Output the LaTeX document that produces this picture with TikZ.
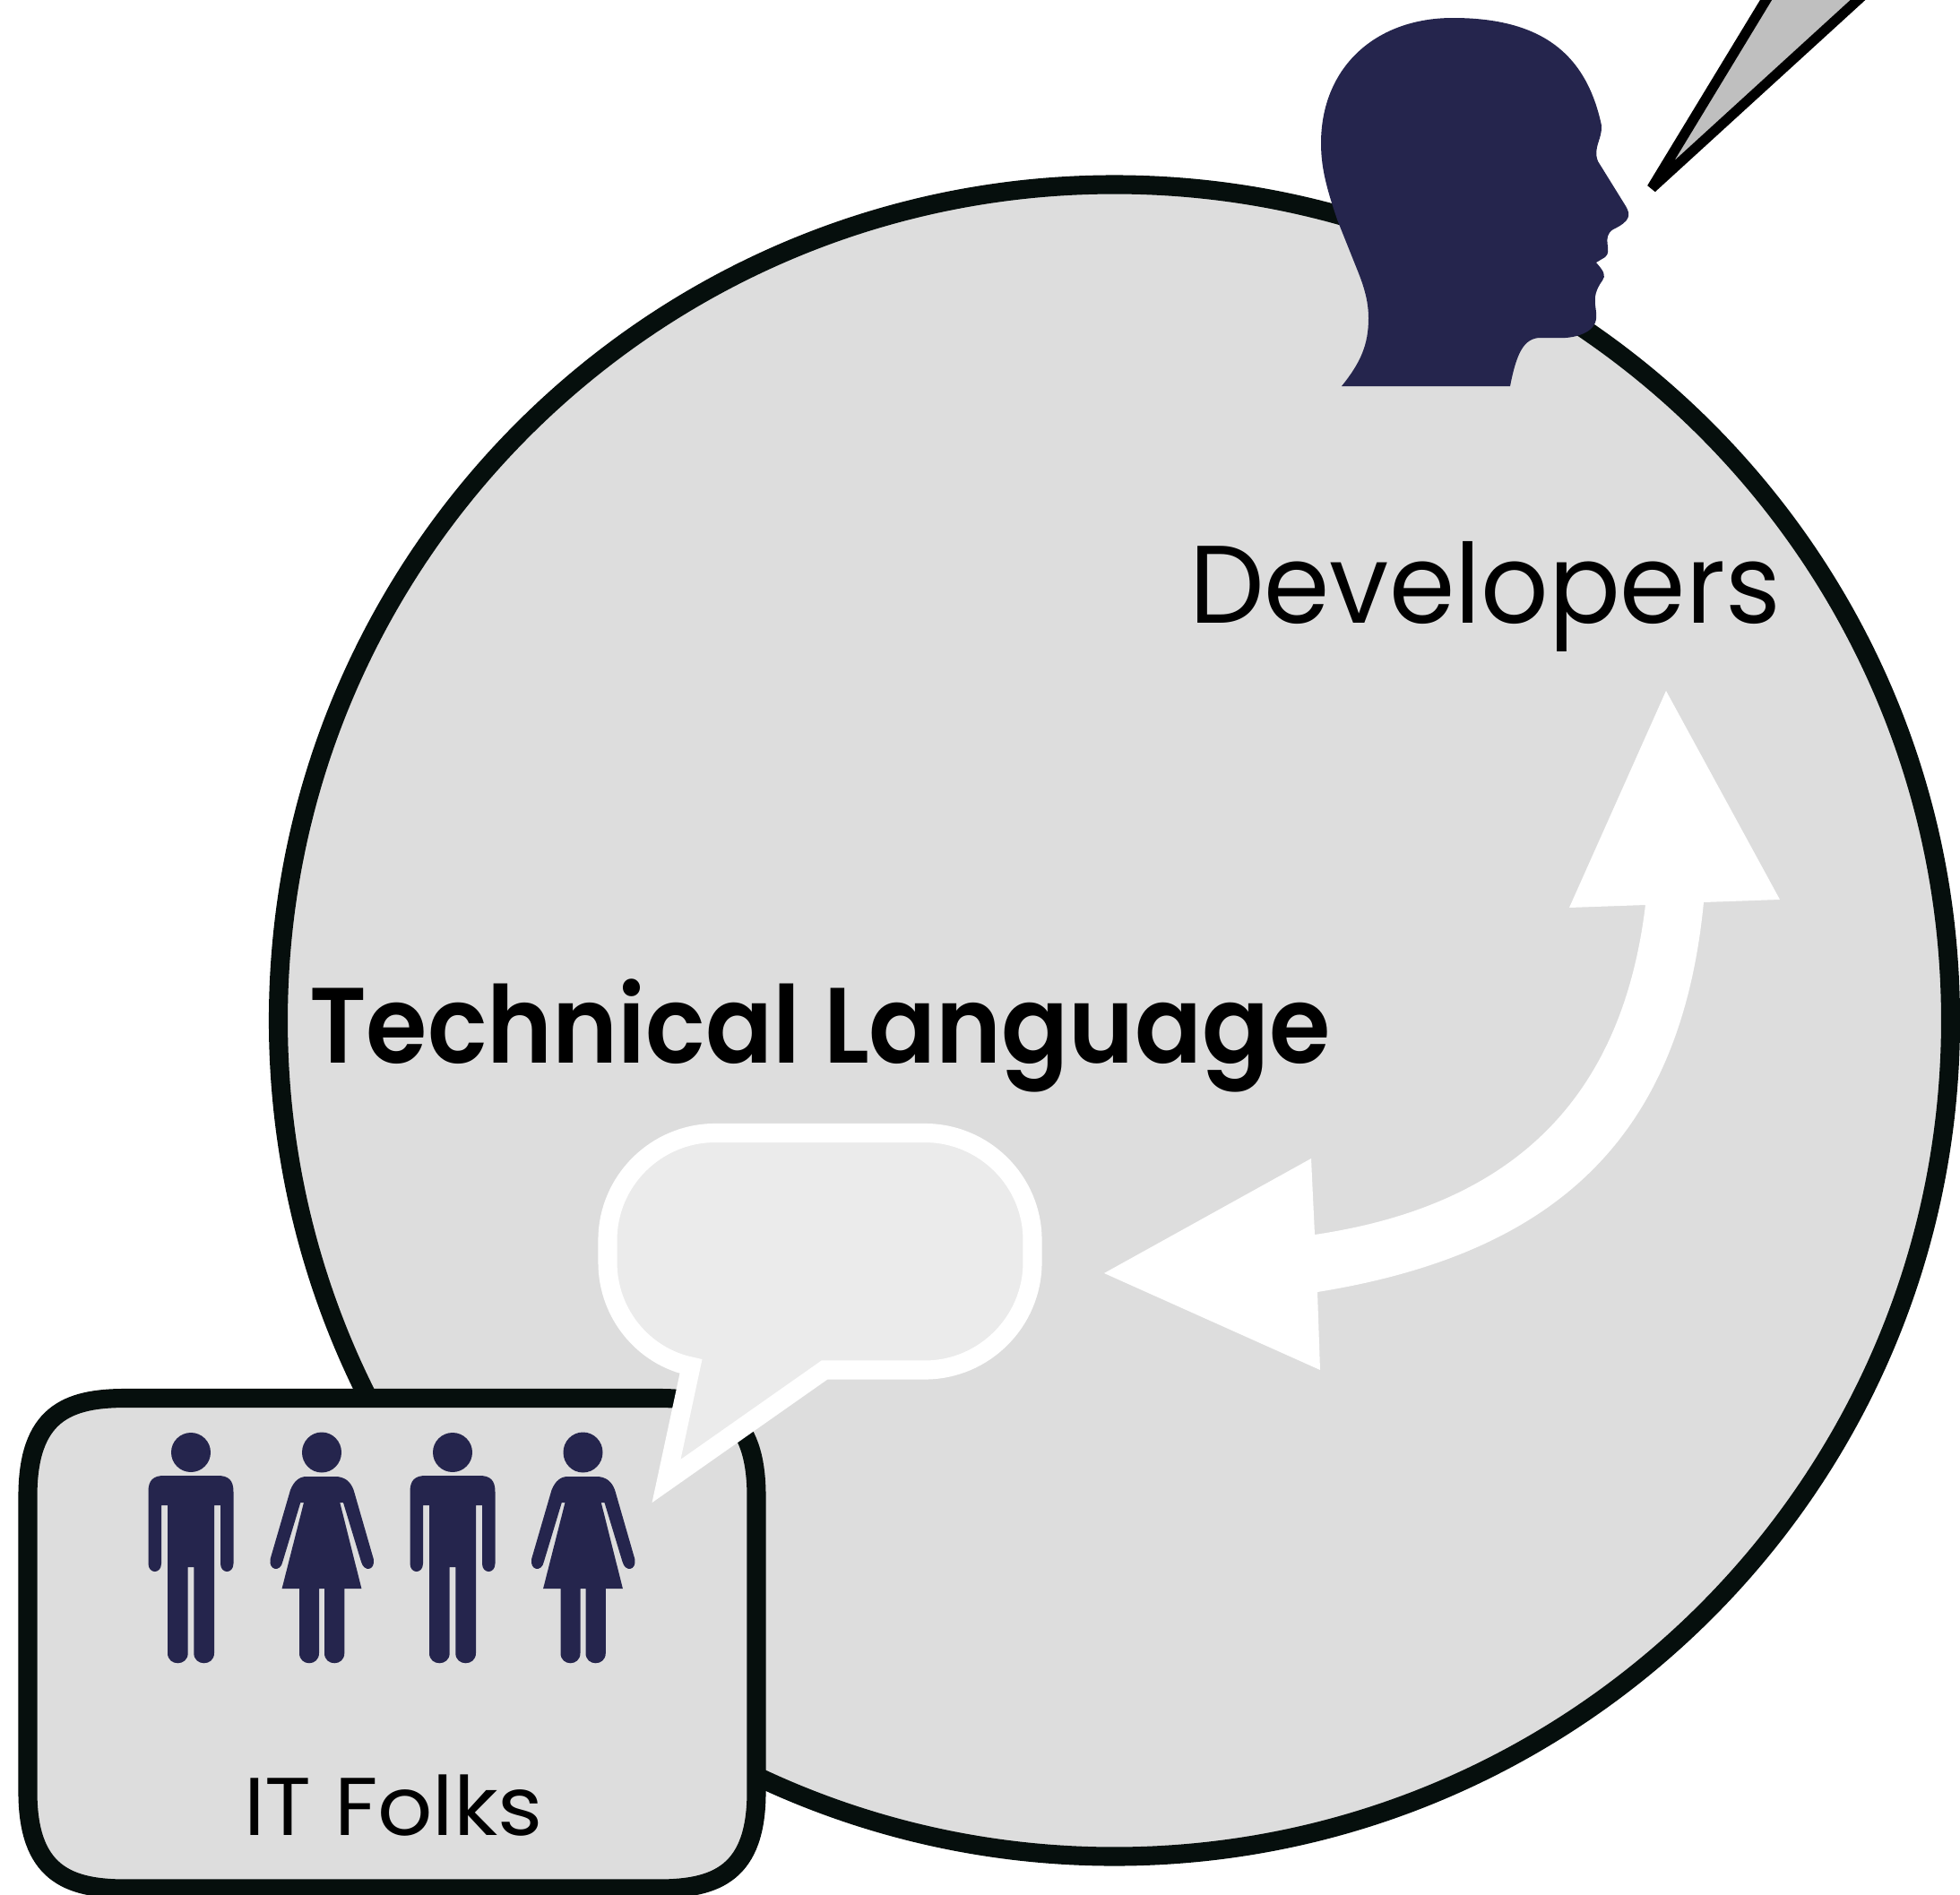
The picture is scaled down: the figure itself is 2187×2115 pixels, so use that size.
\documentclass[tikz,border=0pt]{standalone}
\usepackage{fontspec}
\newfontfamily\lightfont[FakeStretch=0.96]{Poppins}
\newfontfamily\itfont[FakeStretch=1.05]{Poppins}
\newfontfamily\boldfont[FakeStretch=0.925]{Poppins SemiBold}
\definecolor{navy}{HTML}{25254D}
\definecolor{ringblack}{HTML}{060F0D}
\definecolor{panel}{HTML}{DDDDDD}
\definecolor{bubblefill}{HTML}{EBEBEB}
\definecolor{spikefill}{HTML}{BFBFBF}
\tikzset{
  ring/.style={draw=ringblack,line width=6.0pt,fill=panel},
  figure/.style={fill=navy,draw=none},
  lbl/.style={inner sep=0pt,outer sep=0pt,anchor=base west,text=black},
}
\newcommand{\manfig}[1]{%
  \begin{scope}[shift={(#1,0)}]
    \fill[figure] (0,1621) ellipse (22 and 22);
    \fill[figure] (-47.5,1665) .. controls (-47.5,1652) and (-42,1647) .. (-30,1647)
      -- (30,1647) .. controls (42,1647) and (47.5,1652) .. (47.5,1665)
      -- (47.5,1745) .. controls (47.5,1757) and (33,1757) .. (33,1745)
      -- (33,1680) -- (26,1680) -- (26,1845)
      .. controls (26,1860) and (3.3,1860) .. (3.3,1845)
      -- (3.3,1749) -- (-3.3,1749) -- (-3.3,1845)
      .. controls (-3.3,1860) and (-26,1860) .. (-26,1845)
      -- (-26,1680) -- (-33,1680) -- (-33,1745)
      .. controls (-33,1757) and (-47.5,1757) .. (-47.5,1745) -- cycle;
  \end{scope}}
\newcommand{\womanfig}[1]{%
  \begin{scope}[shift={(#1,0)}]
    \fill[figure] (0,1621) ellipse (22 and 22.5);
    \fill[figure] (-35,1663) .. controls (-31,1653) and (-25,1648) .. (-17,1648)
      -- (15,1648) .. controls (25,1648) and (32,1653) .. (35.6,1663)
      -- (57.8,1740) .. controls (60,1753) and (47,1755) .. (44,1743)
      -- (24,1677) -- (20.3,1677) -- (44.4,1773) -- (25.3,1773) -- (25.3,1845)
      .. controls (25.3,1860) and (3,1860) .. (3,1845)
      -- (3,1773) -- (-3,1773) -- (-3,1845)
      .. controls (-3,1860) and (-25,1860) .. (-25,1845)
      -- (-25,1773) -- (-44.4,1773) -- (-20,1677) -- (-23.7,1677) -- (-43.6,1743)
      .. controls (-46,1755) and (-59.5,1753) .. (-57.4,1740) -- cycle;
  \end{scope}}
\begin{document}
\begin{tikzpicture}[x=0.01cm,y=-0.01cm]
\useasboundingbox (0,0) rectangle (2187,2115);
\clip (0,0) rectangle (2187,2115);
% large circle
\draw[ring] (1243.5,1139) ellipse (933 and 933);
% head
\fill[figure] (1497,431) .. controls (1518,405) and (1527,385) .. (1527,355)
  .. controls (1527,330) and (1518,310) .. (1510,290)
  -- (1492,245)
  .. controls (1482,215) and (1474,190) .. (1474,160)
  .. controls (1474,75) and (1535,20) .. (1621,20)
  .. controls (1720,20) and (1770,60) .. (1787,140)
  .. controls (1788,155) and (1777,165) .. (1783,180)
  -- (1814,230)
  .. controls (1820,240) and (1819,247) .. (1800,256)
  .. controls (1786,265) and (1800,280) .. (1791,287)
  -- (1781,293)
  .. controls (1790,303) and (1792,308) .. (1788,313)
  .. controls (1772,335) and (1785,345) .. (1780,360)
  .. controls (1776,372) and (1755,378) .. (1740,377)
  -- (1719,377)
  .. controls (1700,377) and (1692,395) .. (1685,431) -- cycle;
% spike
\draw[black,line width=3.2pt,fill=spikefill,line join=bevel]
  (1843,210) -- (1970.5,0) -- (1992.4,-36) -- (2112,-36) -- (2073,0) -- cycle;
% double arrow
\fill[white] (1859,771) -- (1986,1004) -- (1901,1007)
  .. controls (1875,1275) and (1730,1400) .. (1470,1442)
  -- (1473,1529) -- (1232,1421) -- (1463,1293) -- (1467,1378)
  .. controls (1690,1345) and (1810,1225) .. (1836,1010)
  -- (1751,1013) -- cycle;
% IT folks panel
\draw[ring] (31,1670) .. controls (31,1578) and (75,1560.5) .. (140,1560.5)
  -- (735,1560.5) .. controls (800,1560.5) and (844,1578) .. (844,1670)
  -- (844,2000) .. controls (844,2090) and (800,2108) .. (735,2108)
  -- (140,2108) .. controls (75,2108) and (31,2090) .. (31,2000) -- cycle;
\manfig{213}
\womanfig{359}
\manfig{505}
\womanfig{650.5}
% speech bubble
\draw[draw=white,fill=bubblefill,line width=6pt,miter limit=10]
  (798,1264.5) -- (1032,1264.5)
  .. controls (1098,1264.5) and (1152,1318) .. (1152,1384)
  -- (1152,1409) .. controls (1152,1475) and (1098,1529) .. (1032,1529)
  -- (920,1529) -- (743.5,1653) -- (771,1525)
  .. controls (718,1514) and (678,1466) .. (678,1409)
  -- (678,1384) .. controls (678,1318) and (732,1264.5) .. (798,1264.5) -- cycle;
% labels
\node[lbl,font=\lightfont\fontsize{35}{40}\selectfont] (devs) at (1327,695) {Developers};
\node[lbl,font=\boldfont\fontsize{34}{40}\selectfont] (techlang) at (345,1186) {Technical Language};
\node[lbl,font=\itfont\fontsize{26}{30}\selectfont] (itfolks) at (272,2048) {IT Folks};
\end{tikzpicture}
\end{document}
